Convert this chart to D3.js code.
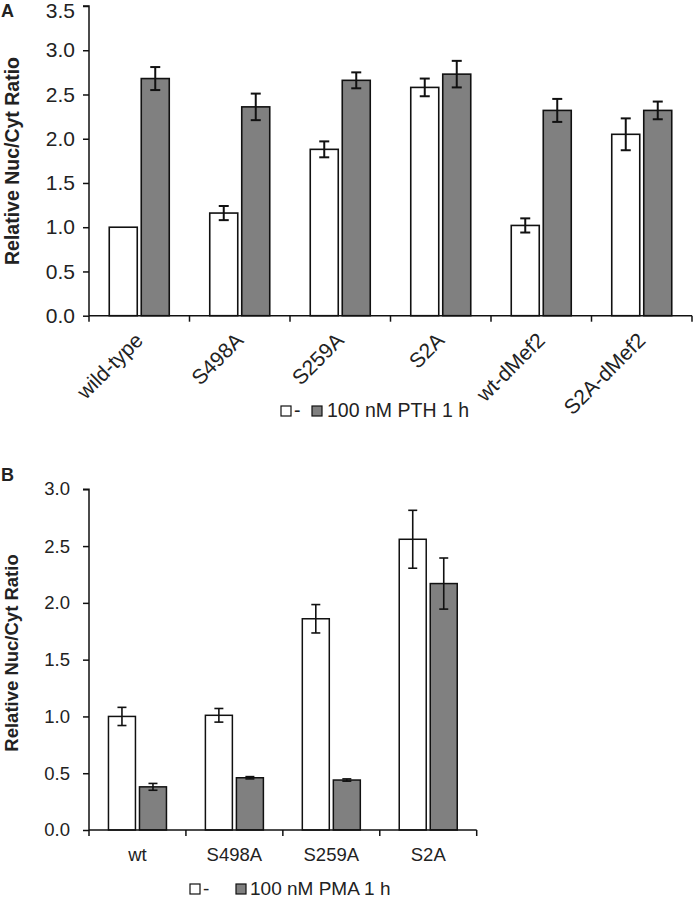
<!DOCTYPE html>
<html>
<head>
<meta charset="utf-8">
<script src="https://cdn.jsdelivr.net/npm/d3@7"></script>
<style>
  html, body { margin: 0; padding: 0; background: #fff; }
  svg { display: block; font-family: "Liberation Sans", Arial, sans-serif; }
</style>
</head>
<body>
<svg id="chart" width="693" height="900"></svg>
<script>
// ---------- Data ----------
const seriesNames = ["-", "100 nM PTH 1 h"];
const seriesNamesB = ["-", "100 nM PMA 1 h"];

const categoriesA = ["wild-type", "S498A", "S259A", "S2A", "wt-dMef2", "S2A-dMef2"];
const controlA = [1.00, 1.16, 1.88, 2.58, 1.02, 2.05];
const controlErrA = [0, 0.08, 0.09, 0.10, 0.08, 0.18];
const pthA = [2.68, 2.36, 2.66, 2.73, 2.32, 2.32];
const pthErrA = [0.13, 0.15, 0.09, 0.15, 0.13, 0.10];

const categoriesB = ["wt", "S498A", "S259A", "S2A"];
const controlB = [1.00, 1.01, 1.86, 2.56];
const controlErrB = [0.08, 0.06, 0.125, 0.255];
const pmaB = [0.38, 0.46, 0.44, 2.17];
const pmaErrB = [0.03, 0.01, 0.01, 0.225];

const ticksA = [0, 0.5, 1.0, 1.5, 2.0, 2.5, 3.0, 3.5];
const ticksB = [0, 0.5, 1.0, 1.5, 2.0, 2.5, 3.0];

const fills = ["#ffffff", "#808080"];
const yLabel = "Relative Nuc/Cyt Ratio";

const svg = d3.select("#chart");

function drawPanel(o) {
  const g = svg.append("g");
  const x = d3.scaleBand().domain(o.categories).range([o.x0, o.x1]).padding(0);
  const y = d3.scaleLinear().domain([0, o.ymax]).range([o.yBottom, o.yTop]);
  const sub = d3.scaleBand().domain([0, 1]).range([-o.pairHalf, o.pairHalf]).paddingInner(o.innerPad);

  const rows = [];
  o.categories.forEach((c, i) => {
    rows.push({ cat: c, s: 0, v: o.vals[0][i], e: o.errs[0][i] });
    rows.push({ cat: c, s: 1, v: o.vals[1][i], e: o.errs[1][i] });
  });

  g.selectAll("rect.bar").data(rows).join("rect")
    .attr("class", "bar")
    .attr("x", d => x(d.cat) + x.bandwidth() / 2 + sub(d.s))
    .attr("width", sub.bandwidth())
    .attr("y", d => y(d.v))
    .attr("height", d => y(0) - y(d.v))
    .attr("fill", d => fills[d.s])
    .attr("stroke", "#111")
    .attr("stroke-width", o.barStroke);

  const eb = g.selectAll("g.err").data(rows.filter(d => d.e > 0)).join("g").attr("class", "err")
    .attr("stroke", "#111").attr("stroke-width", o.errStroke);
  const cx = d => x(d.cat) + x.bandwidth() / 2 + sub(d.s) + sub.bandwidth() / 2;
  eb.append("line").attr("x1", cx).attr("x2", cx)
    .attr("y1", d => y(d.v + d.e)).attr("y2", d => y(d.v - d.e));
  eb.append("line").attr("x1", d => cx(d) - o.cap).attr("x2", d => cx(d) + o.cap)
    .attr("y1", d => y(d.v + d.e)).attr("y2", d => y(d.v + d.e));
  eb.append("line").attr("x1", d => cx(d) - o.cap).attr("x2", d => cx(d) + o.cap)
    .attr("y1", d => y(d.v - d.e)).attr("y2", d => y(d.v - d.e));

  // y axis
  const yAxis = d3.axisLeft(y).tickValues(o.ticks).tickFormat(d3.format(".1f")).tickSize(6).tickPadding(o.tickPad);
  const ya = g.append("g").attr("transform", `translate(${o.x0},0)`).call(yAxis);
  ya.select(".domain").attr("stroke", "#111").attr("stroke-width", 1.5).attr("d", `M-6,${o.yTop}H0V${o.yBottom}`);
  ya.selectAll(".tick line").attr("stroke", "#111").attr("stroke-width", 1.5);
  ya.selectAll(".tick text").attr("font-size", o.tickFont).attr("fill", "#222")
    .attr("font-family", "'Liberation Sans', Arial, sans-serif")
    .attr("dy", (d) => d === o.ymax ? "0.62em" : "0.32em")
    .attr("transform", d => d === o.ymax ? `translate(0,${o.topShift})` : null);

  // x axis line with ticks at category boundaries
  const xa = g.append("g");
  xa.append("line").attr("x1", o.x0).attr("x2", o.x1)
    .attr("y1", o.yBottom).attr("y2", o.yBottom).attr("stroke", "#111").attr("stroke-width", 1.5);
  const bounds = o.categories.map(c => x(c)).concat([o.x1]);
  xa.selectAll("line.xt").data(bounds).join("line").attr("class", "xt")
    .attr("x1", d => d).attr("x2", d => d)
    .attr("y1", o.yBottom).attr("y2", o.yBottom + 6)
    .attr("stroke", "#111").attr("stroke-width", 1.5);

  if (o.rotate) {
    xa.selectAll("text.xl").data(o.categories).join("text").attr("class", "xl")
      .attr("transform", c => `translate(${x(c) + x.bandwidth() / 2 + 5},${o.yBottom + 26}) rotate(-45)`)
      .attr("text-anchor", "end")
      .attr("font-size", o.xFont).attr("fill", "#222")
      .text(c => c);
  } else {
    xa.selectAll("text.xl").data(o.categories).join("text").attr("class", "xl")
      .attr("x", c => x(c) + x.bandwidth() / 2)
      .attr("y", o.yBottom + 31)
      .attr("text-anchor", "middle")
      .attr("font-size", o.xFont).attr("fill", "#222")
      .text(c => c);
  }

  g.append("text")
    .attr("transform", `translate(${o.labelX},${o.labelCy}) rotate(-90)`)
    .attr("text-anchor", "middle")
    .attr("font-size", o.labelFont).attr("font-weight", "bold").attr("fill", "#222")
    .text(yLabel);

  g.append("text").attr("x", 1).attr("y", o.letterY)
    .attr("font-size", 18).attr("font-weight", "bold").attr("fill", "#222")
    .text(o.letter);

  const lg = g.append("g");
  const L = o.legend;
  lg.append("rect").attr("x", L.x).attr("y", L.y - 11).attr("width", 10).attr("height", 10)
    .attr("fill", fills[0]).attr("stroke", "#111").attr("stroke-width", 1.2);
  lg.append("text").attr("x", L.x + 13).attr("y", L.y).attr("font-size", L.font).attr("fill", "#222").text(o.names[0]);
  lg.append("rect").attr("x", L.x2).attr("y", L.y - 11).attr("width", 10).attr("height", 10)
    .attr("fill", fills[1]).attr("stroke", "#111").attr("stroke-width", 1.2);
  lg.append("text").attr("x", L.tx).attr("y", L.y).attr("font-size", L.font).attr("fill", "#222").text(o.names[1]);
}

drawPanel({
  categories: categoriesA, vals: [controlA, pthA], errs: [controlErrA, pthErrA],
  x0: 89, x1: 692, yTop: 6, yBottom: 315.7, ymax: 3.5, ticks: ticksA,
  pairHalf: 30, innerPad: 0.125, barStroke: 1.6, errStroke: 2, cap: 5,
  tickFont: 21, tickPad: 8, topShift: -2, xFont: 21, labelFont: 19.5, labelX: 19,
  rotate: true, labelCy: 161, letter: "A", letterY: 17,
  names: seriesNames, legend: { x: 281, x2: 312, tx: 327, y: 417, font: 19.5 }
});

drawPanel({
  categories: categoriesB, vals: [controlB, pmaB], errs: [controlErrB, pmaErrB],
  x0: 89, x1: 476.7, yTop: 489.3, yBottom: 830, ymax: 3.0, ticks: ticksB,
  pairHalf: 29, innerPad: 0.13, barStroke: 1.5, errStroke: 1.6, cap: 4.5,
  tickFont: 18.5, tickPad: 13, topShift: -6.5, xFont: 18.5, labelFont: 18.5, labelX: 18,
  rotate: false, labelCy: 653, letter: "B", letterY: 481,
  names: seriesNamesB, legend: { x: 190, x2: 236, tx: 250, y: 895, font: 19 }
});
</script>
</body>
</html>
